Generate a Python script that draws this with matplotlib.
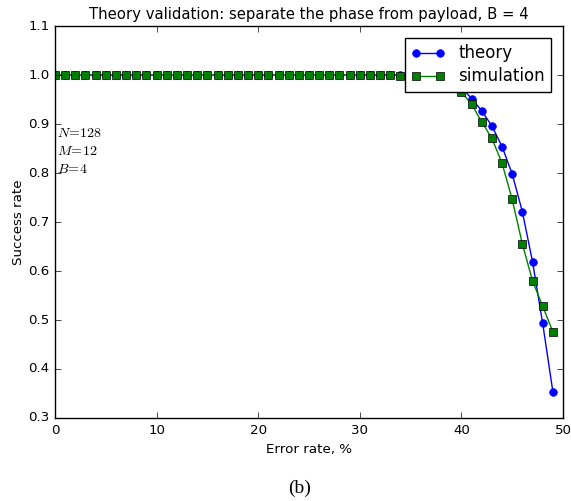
import matplotlib
matplotlib.use("Agg")
import matplotlib.pyplot as plt

# error rate in percent, 0..49
error_rate = list(range(50))

# success rate predicted by the model
theory = [1.0] * 35 + [
    0.9999, 0.9997, 0.999, 0.996, 0.988,
    0.975, 0.952, 0.927, 0.896, 0.854,
    0.798, 0.721, 0.619, 0.493, 0.354,
]

# success rate measured in simulation
simulation = [1.0] * 34 + [
    0.999, 0.999, 0.998, 0.996, 0.99, 0.981,
    0.965, 0.941, 0.904, 0.871, 0.820,
    0.746, 0.655, 0.580, 0.528, 0.476,
]

plt.style.use("classic")
plt.rcParams["font.size"] = 9.6
plt.rcParams["savefig.facecolor"] = "white"

fig = plt.figure(figsize=(5.71, 5.01), dpi=100)
ax = fig.add_axes([0.0963, 0.1657, 0.8897, 0.7823])

ax.plot(error_rate, theory, "b-o", markersize=5.5, markeredgecolor="b", label="theory")
ax.plot(error_rate, simulation, "g-s", markersize=5.5, markeredgecolor="k",
        markeredgewidth=0.5, label="simulation")

ax.set_xlim(0, 50)
ax.set_ylim(0.3, 1.1)
ax.set_xticks([0, 10, 20, 30, 40, 50])
ax.set_yticks([0.3, 0.4, 0.5, 0.6, 0.7, 0.8, 0.9, 1.0, 1.1])
ax.tick_params(labelsize=9.6)

ax.set_title("Theory validation: separate the phase from payload, B = 4", fontsize=10.7)
ax.set_xlabel("Error rate, %", fontsize=9.6)
ax.set_ylabel("Success rate", fontsize=9.6, labelpad=2)

ax.text(0.003, 0.745, "$N\\!=\\!128$\n$M\\!=\\!12$\n$B\\!=\\!4$", transform=ax.transAxes,
        fontsize=10, va="top", ha="left", linespacing=1.35)

ax.legend(loc="upper right", fontsize=12, numpoints=2, handlelength=2,
          borderaxespad=0.7, labelspacing=0.3)

fig.text(0.525, 0.026, "(b)", family="Liberation Serif", fontsize=14, ha="center", va="center")

fig.savefig("out.png", dpi=100)
